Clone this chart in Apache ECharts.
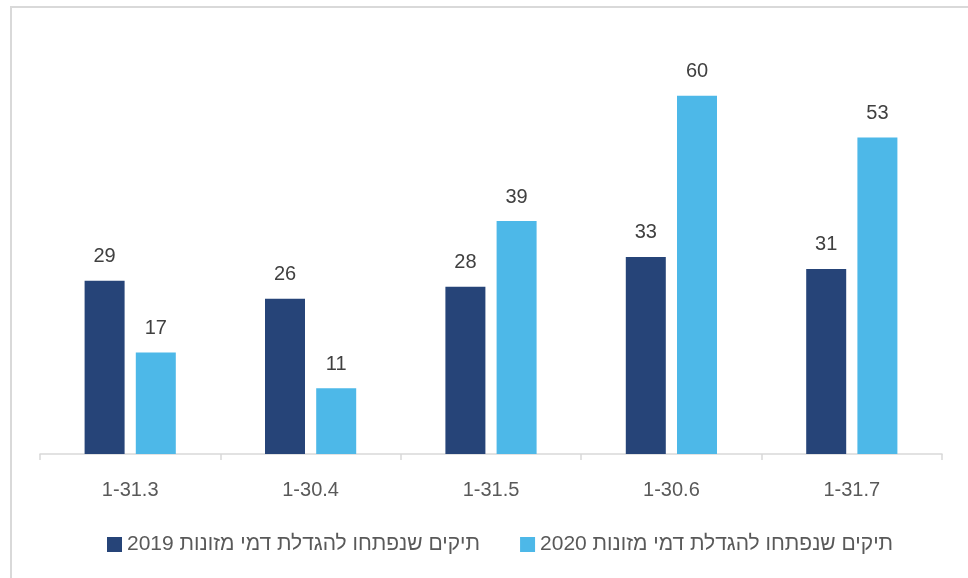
<!DOCTYPE html>
<html>
<head>
<meta charset="utf-8">
<script src="https://cdn.jsdelivr.net/npm/echarts@6/dist/echarts.min.js"></script>
<style>
html,body{margin:0;padding:0;background:#fff;}
#frame{position:absolute;left:10px;top:6px;width:1000px;height:600px;border-left:2px solid #d9d9d9;border-top:2px solid #d9d9d9;}
#chart{position:absolute;left:0;top:0;width:968px;height:578px;}
</style>
</head>
<body>
<div id="frame"></div>
<div id="chart" dir="rtl"></div>
<script>
const categories = ['1-31.3', '1-30.4', '1-31.5', '1-30.6', '1-31.7'];
const seriesNames = ['תיקים שנפתחו להגדלת דמי מזונות 2019', 'תיקים שנפתחו להגדלת דמי מזונות 2020'];
const values2019 = [29, 26, 28, 33, 31];
const values2020 = [17, 11, 39, 60, 53];

const font = '"Liberation Sans", Arial, sans-serif';
const chart = echarts.init(document.getElementById('chart'));
const labelStyle = {
  show: true, position: 'top', distance: 14,
  color: '#404040', fontSize: 20, fontFamily: font
};
chart.setOption({
  animation: false,
  backgroundColor: 'transparent',
  grid: { left: 40, right: 26, top: 36, bottom: 124 },
  legend: {
    data: seriesNames,
    bottom: 18, left: 102,
    itemWidth: 15, itemHeight: 15, itemGap: 40,
    icon: 'rect',
    textStyle: { color: '#595959', fontSize: 21, fontFamily: font }
  },
  xAxis: {
    type: 'category',
    data: categories,
    axisLine: { lineStyle: { color: '#d9d9d9', width: 1.5 } },
    axisTick: { show: true, length: 6, lineStyle: { color: '#d9d9d9', width: 1.5 } },
    axisLabel: { color: '#595959', fontSize: 20, fontFamily: font, margin: 26 }
  },
  yAxis: {
    type: 'value', min: 0, max: 70, show: false,
    splitLine: { show: false }
  },
  series: [
    { name: seriesNames[0], type: 'bar', data: values2019, barWidth: 40, barGap: '28%',
      itemStyle: { color: '#264478' }, label: labelStyle },
    { name: seriesNames[1], type: 'bar', data: values2020, barWidth: 40,
      itemStyle: { color: '#4DB8E8' }, label: labelStyle }
  ]
});
</script>
</body>
</html>
